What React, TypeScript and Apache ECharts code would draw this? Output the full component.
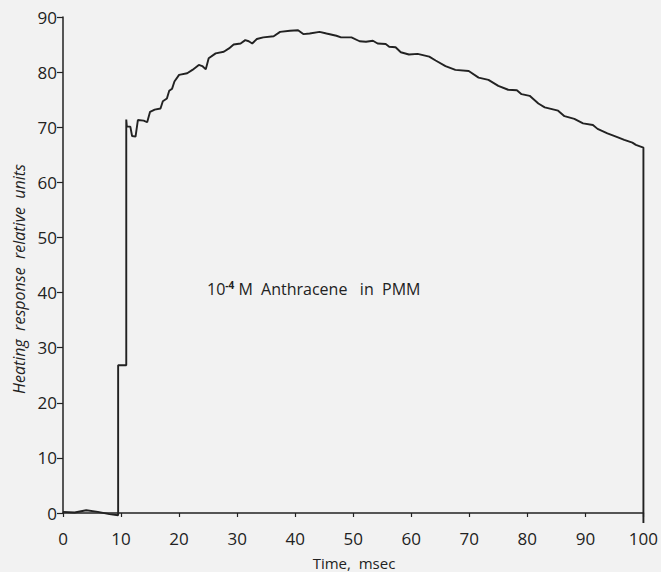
import React, { useEffect, useRef } from "react";
import * as echarts from "echarts";

const timeMs: number[] = [
  0, 2, 4, 6, 8, 9.5, 9.5, 10.9, 10.9, 11.0, 11.6, 11.9, 12.5, 12.9, 13.9, 14.5,
  15.0, 15.8, 16.8, 17.2, 17.9, 18.3, 18.8, 19.2, 20.0, 21.4, 22.3, 23.4, 24.0,
  24.6, 25.1, 26.3, 27.7, 28.6, 29.4, 30.6, 31.4, 32.0, 32.6, 33.4, 34.5, 36.3,
  37.4, 39.1, 40.5, 41.4, 42.5, 44.2, 45.4, 47.1, 47.9, 49.7, 51.1, 52.2, 53.4,
  54.2, 55.6, 56.2, 57.3, 58.2, 59.6, 61.1, 63.1, 64.2, 65.9, 67.6, 69.9, 71.6,
  73.3, 75.0, 76.7, 78.2, 79.0, 80.4, 81.9, 83.0, 85.3, 86.4, 88.1, 89.6, 91.3,
  92.1, 93.8, 95.5, 96.7, 98.1, 98.7, 100, 100,
];

const response: number[] = [
  0.2, 0.1, 0.5, 0.2, -0.2, -0.4, 26.8, 26.8, 71.4, 70.1, 70.1, 68.4, 68.3, 71.3,
  71.2, 70.9, 72.8, 73.2, 73.4, 74.7, 75.2, 76.6, 77.0, 78.3, 79.5, 79.8, 80.4,
  81.3, 81.1, 80.5, 82.5, 83.4, 83.7, 84.3, 85.0, 85.2, 85.8, 85.6, 85.2, 86.0,
  86.3, 86.5, 87.3, 87.5, 87.6, 86.9, 87.0, 87.3, 87.0, 86.6, 86.3, 86.3, 85.6,
  85.5, 85.7, 85.2, 85.1, 84.6, 84.5, 83.6, 83.2, 83.3, 82.8, 82.1, 81.1, 80.4,
  80.2, 79.0, 78.6, 77.5, 76.8, 76.7, 76.0, 75.7, 74.3, 73.6, 73.0, 72.0, 71.5,
  70.7, 70.4, 69.7, 68.9, 68.2, 67.7, 67.2, 66.8, 66.3, -1.8,
];

const xTicks = { min: 0, max: 100, interval: 10 };
const yTicks = { min: 0, max: 90, interval: 10 };

const xTitle = "Time,  msec";
const yTitle = "Heating  response  relative  units";
const noteBase = "10";
const noteSup = "-4";
const noteRest = " M  Anthracene   in  PMM";

const FONT = "'Open Sans', 'DejaVu Sans', sans-serif";
const INK = "#222222";

export default function App() {
  const ref = useRef<HTMLDivElement>(null);

  useEffect(() => {
    if (!ref.current) return;
    const chart = echarts.init(ref.current, undefined, { renderer: "svg" });
    const data = timeMs.map((t, i) => [t, response[i]]);
    chart.setOption({
      animation: false,
      backgroundColor: "#f2f2f2",
      grid: { left: 63, right: 14, top: 17, bottom: 59 },
      xAxis: {
        type: "value",
        min: xTicks.min,
        max: xTicks.max,
        interval: xTicks.interval,
        offset: 10,
        axisLine: { show: true, lineStyle: { color: INK, width: 1.5 } },
        axisTick: { show: true, inside: false, length: 4, lineStyle: { color: INK, width: 1.2 } },
        axisLabel: { color: INK, fontFamily: FONT, fontSize: 17, fontWeight: "normal", margin: 7 },
        splitLine: { show: false },
      },
      yAxis: {
        type: "value",
        min: yTicks.min,
        max: yTicks.max,
        interval: yTicks.interval,
        axisLine: { show: true, lineStyle: { color: INK, width: 1.5 } },
        axisTick: { show: true, inside: false, length: 6, lineStyle: { color: INK, width: 1.2 } },
        axisLabel: { color: INK, fontFamily: FONT, fontSize: 17, fontWeight: "normal", margin: 6 },
        splitLine: { show: false },
      },
      graphic: [
        {
          type: "text",
          x: 354,
          y: 563,
          style: {
            text: xTitle,
            fill: INK,
            font: `normal 15px ${FONT}`,
            align: "center",
            verticalAlign: "middle",
          },
        },
        {
          type: "text",
          x: 19,
          y: 279,
          rotation: Math.PI / 2,
          style: {
            text: yTitle,
            fill: INK,
            font: `italic normal 16px ${FONT}`,
            align: "center",
            verticalAlign: "middle",
          },
        },
        {
          type: "text",
          x: 207,
          y: 289,
          style: {
            text: `{b|${noteBase}}{s|${noteSup}}{b|${noteRest}}`,
            verticalAlign: "middle",
            align: "left",
            rich: {
              b: { fontFamily: FONT, fontSize: 16, fontWeight: "normal", fill: INK, color: INK },
              s: {
                fontFamily: FONT,
                fontSize: 10,
                fontWeight: 700,
                fill: INK,
                color: INK,
                verticalAlign: "top",
                padding: [0, 0, 8, 0],
              },
            },
          },
        },
      ],
      series: [
        {
          type: "line",
          data,
          showSymbol: false,
          clip: false,
          lineStyle: { color: INK, width: 1.9 },
          silent: true,
        },
      ],
    });
    return () => chart.dispose();
  }, []);

  return (
    <div
      ref={ref}
      style={{ position: "fixed", left: 0, top: 0, width: 661, height: 572, background: "#f2f2f2" }}
    />
  );
}
